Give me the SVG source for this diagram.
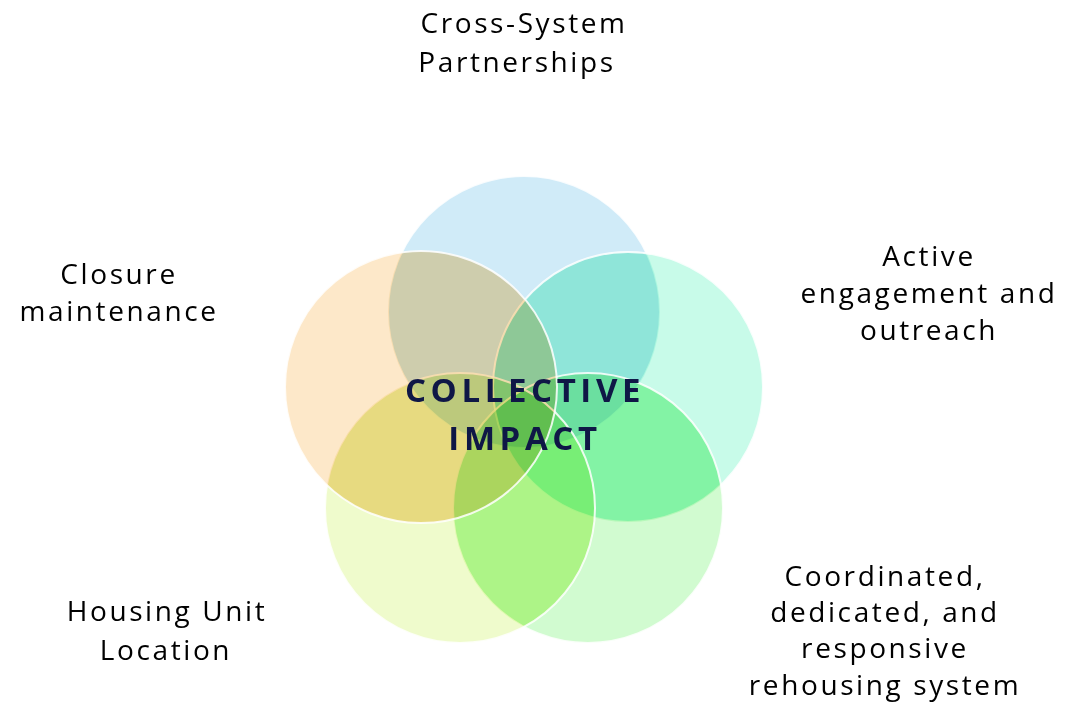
<svg xmlns="http://www.w3.org/2000/svg" width="1086" height="703" viewBox="0 0 1086 703">
<style>
.c{mix-blend-mode:multiply}
.e{fill:none;stroke:#ffffff;stroke-width:2;stroke-opacity:0.85}
.lbl{font-family:"Open Sans","DejaVu Sans",sans-serif;font-size:28px;letter-spacing:2.6px;fill:#000;text-anchor:middle}
.ttl{font-family:"Open Sans","DejaVu Sans",sans-serif;font-weight:bold;font-size:33px;letter-spacing:4.6px;fill:#0f1746;text-anchor:middle}
.w{fill:#ffffff}
.k{fill:#000000}
</style>
<defs>
<mask id="m-top" maskUnits="userSpaceOnUse" x="0" y="0" width="1086" height="703">
<circle class="w" cx="524" cy="312" r="136"/>
<circle class="k" cx="628" cy="387" r="135"/><circle class="k" cx="588" cy="508" r="135"/><circle class="k" cx="460" cy="508" r="135"/><circle class="k" cx="421" cy="387" r="136"/>
</mask>
<mask id="m-right" maskUnits="userSpaceOnUse" x="0" y="0" width="1086" height="703">
<circle class="w" cx="628" cy="387" r="135"/>
<circle class="k" cx="524" cy="312" r="136"/><circle class="k" cx="588" cy="508" r="135"/><circle class="k" cx="460" cy="508" r="135"/><circle class="k" cx="421" cy="387" r="136"/>
</mask>
<mask id="m-br" maskUnits="userSpaceOnUse" x="0" y="0" width="1086" height="703">
<circle class="w" cx="588" cy="508" r="135"/>
<circle class="k" cx="524" cy="312" r="136"/><circle class="k" cx="628" cy="387" r="135"/><circle class="k" cx="460" cy="508" r="135"/><circle class="k" cx="421" cy="387" r="136"/>
</mask>
<mask id="m-bl" maskUnits="userSpaceOnUse" x="0" y="0" width="1086" height="703">
<circle class="w" cx="460" cy="508" r="135"/>
<circle class="k" cx="524" cy="312" r="136"/><circle class="k" cx="628" cy="387" r="135"/><circle class="k" cx="588" cy="508" r="135"/><circle class="k" cx="421" cy="387" r="136"/>
</mask>
<mask id="m-left" maskUnits="userSpaceOnUse" x="0" y="0" width="1086" height="703">
<circle class="w" cx="421" cy="387" r="136"/>
<circle class="k" cx="524" cy="312" r="136"/><circle class="k" cx="628" cy="387" r="135"/><circle class="k" cx="588" cy="508" r="135"/><circle class="k" cx="460" cy="508" r="135"/>
</mask>
</defs>
<rect width="1086" height="703" fill="#ffffff"/>
<g id="circles">
<g id="circle-top"><circle class="c" cx="524" cy="312" r="136" fill="#d0ebf8"/><circle class="e" cx="524" cy="312" r="136"/></g>
<g id="circle-right"><circle class="c" cx="628" cy="387" r="135" fill="#b0f9e0"/><circle class="e" cx="628" cy="387" r="135"/></g>
<g id="circle-bottom-right"><circle class="c" cx="588" cy="508" r="135" fill="#bef9bc"/><circle class="e" cx="588" cy="508" r="135"/></g>
<g id="circle-bottom-left"><circle class="c" cx="460" cy="508" r="135" fill="#e9fab7"/><circle class="e" cx="460" cy="508" r="135"/></g>
<g id="circle-left"><circle class="c" cx="421" cy="387" r="136" fill="#fddfb2"/><circle class="e" cx="421" cy="387" r="136"/></g>
</g>
<g id="tints">
<rect width="1086" height="703" fill="#ffffff" fill-opacity="0.3" mask="url(#m-right)"/>
<rect width="1086" height="703" fill="#ffffff" fill-opacity="0.3" mask="url(#m-br)"/>
<rect width="1086" height="703" fill="#ffffff" fill-opacity="0.3" mask="url(#m-bl)"/>
<rect width="1086" height="703" fill="#ffffff" fill-opacity="0.3" mask="url(#m-left)"/>
</g>
<g id="center">
<text class="ttl" x="525" y="402">COLLECTIVE</text>
<text class="ttl" x="525" y="450">IMPACT</text>
</g>
<g id="label-top">
<text class="lbl" x="524" y="33">Cross-System</text>
<text class="lbl" x="517" y="72">Partnerships</text>
</g>
<g id="label-right">
<text class="lbl" x="929" y="266">Active</text>
<text class="lbl" x="929" y="303">engagement and</text>
<text class="lbl" x="929" y="340">outreach</text>
</g>
<g id="label-bottom-right">
<text class="lbl" x="885" y="586">Coordinated,</text>
<text class="lbl" x="885" y="622">dedicated, and</text>
<text class="lbl" x="885" y="658">responsive</text>
<text class="lbl" x="885" y="695">rehousing system</text>
</g>
<g id="label-bottom-left">
<text class="lbl" x="167" y="621">Housing Unit</text>
<text class="lbl" x="166" y="660">Location</text>
</g>
<g id="label-left">
<text class="lbl" x="119" y="284">Closure</text>
<text class="lbl" x="119" y="321">maintenance</text>
</g>
<g id="connectors"/>
</svg>
